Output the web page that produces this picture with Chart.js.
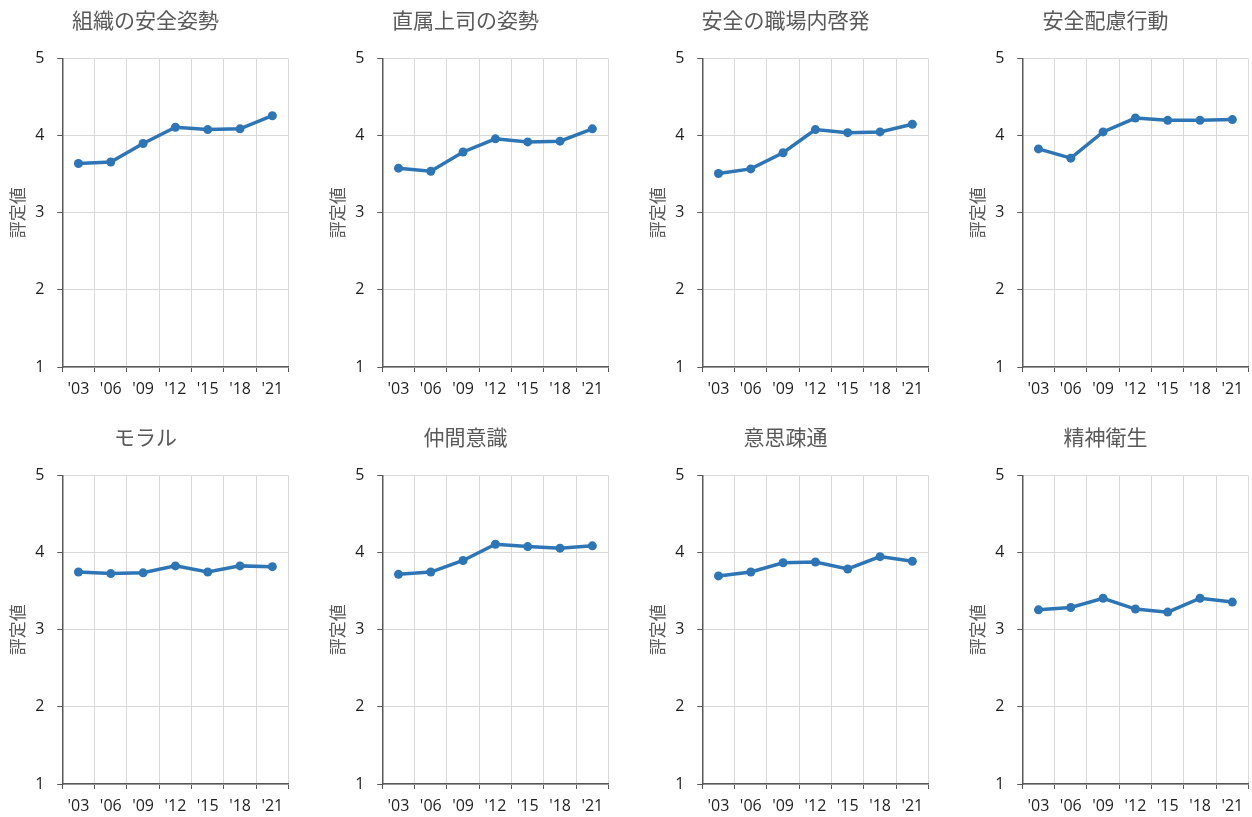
<!DOCTYPE html>
<html lang="ja">
<head>
<meta charset="utf-8">
<title>評定値の推移</title>
<script src="https://cdn.jsdelivr.net/npm/chart.js@4.4.1/dist/chart.umd.min.js"></script>
<style>
  html, body { margin: 0; padding: 0; background: #ffffff; }
  #wrap { position: relative; width: 1252px; height: 817px; overflow: hidden; }
  .cell { position: absolute; width: 293px; height: 400px; }
  .cell canvas { display: block; }
</style>
</head>
<body>
<div id="wrap"></div>
<script>
// Survey years (x-axis categories)
const years = ["'03", "'06", "'09", "'12", "'15", "'18", "'21"];

// Panel titles, in drawing order (left to right, top row first)
const titles = [
  "組織の安全姿勢", "直属上司の姿勢", "安全の職場内啓発", "安全配慮行動",
  "モラル", "仲間意識", "意思疎通", "精神衛生"
];

// Mean ratings per survey year
const orgSafety        = [3.64, 3.66, 3.90, 4.11, 4.08, 4.09, 4.26];
const supervisor       = [3.58, 3.54, 3.79, 3.96, 3.92, 3.93, 4.09];
const workplaceAware   = [3.51, 3.57, 3.78, 4.08, 4.04, 4.05, 4.15];
const safetyBehavior   = [3.83, 3.71, 4.05, 4.23, 4.20, 4.20, 4.21];
const morale           = [3.75, 3.73, 3.74, 3.83, 3.75, 3.83, 3.82];
const fellowship       = [3.72, 3.75, 3.90, 4.11, 4.08, 4.06, 4.09];
const communication    = [3.70, 3.75, 3.87, 3.88, 3.79, 3.95, 3.89];
const mentalHealth     = [3.26, 3.29, 3.41, 3.27, 3.23, 3.41, 3.36];

const seriesList = [orgSafety, supervisor, workplaceAware, safetyBehavior,
                    morale, fellowship, communication, mentalHealth];

// Rating scale
const yMin = 1;
const yMax = 5;
const yStep = 1;
const yAxisTitle = "評定値";

const CJK = "'Noto Sans CJK JP', 'Noto Sans', sans-serif";
const LAT = "'Open Sans', 'Noto Sans', sans-serif";
const BLUE = '#2e75b6';
const GRID = '#d9d9d9';
const AXIS = '#595959';

const colLeft = [0, 320, 640, 960];
const rowTop = [0, 417];

const wrap = document.getElementById('wrap');

seriesList.forEach((values, i) => {
  const cell = document.createElement('div');
  cell.className = 'cell';
  cell.style.left = colLeft[i % 4] + 'px';
  cell.style.top = rowTop[Math.floor(i / 4)] + 'px';
  const canvas = document.createElement('canvas');
  canvas.width = 293;
  canvas.height = 400;
  cell.appendChild(canvas);
  wrap.appendChild(cell);

  new Chart(canvas, {
    type: 'line',
    data: {
      labels: years,
      datasets: [{
        data: values,
        borderColor: BLUE,
        backgroundColor: BLUE,
        borderWidth: 3.5,
        pointRadius: 4.5,
        pointHoverRadius: 4.5,
        pointBorderWidth: 0,
        tension: 0,
        clip: false
      }]
    },
    options: {
      responsive: false,
      animation: false,
      devicePixelRatio: 1,
      layout: { padding: { left: 0, right: 2, top: 0, bottom: 0 } },
      plugins: {
        legend: { display: false },
        tooltip: { enabled: false },
        title: {
          display: true,
          text: titles[i],
          color: AXIS,
          font: { family: CJK, size: 21, weight: 'normal', lineHeight: 1.2 },
          padding: { top: 7.5, bottom: 26 }
        }
      },
      scales: {
        x: {
          offset: true,
          grid: { offset: true, color: GRID, lineWidth: 1, tickColor: AXIS, tickLength: 5 },
          border: { color: AXIS, width: 1.5 },
          ticks: {
            color: '#1f1f1f',
            font: { family: LAT, size: 16 },
            padding: 8,
            maxRotation: 0,
            autoSkip: false
          },
          afterFit(scale) {
            scale.height = 33;
            scale.paddingLeft = 0;
            scale.paddingRight = 0;
          }
        },
        y: {
          min: yMin,
          max: yMax,
          grid: { color: GRID, lineWidth: 1, tickColor: AXIS, tickLength: 5 },
          border: { color: AXIS, width: 1.5 },
          ticks: {
            stepSize: yStep,
            color: '#1f1f1f',
            font: { family: LAT, size: 16 },
            padding: 13
          },
          title: {
            display: true,
            text: yAxisTitle,
            color: AXIS,
            font: { family: CJK, size: 17, weight: 'normal', lineHeight: 1.2 },
            padding: { top: 7.5, bottom: 0 }
          },
          afterFit(scale) {
            scale.width = 62.3;
            scale.paddingTop = 0;
            scale.paddingBottom = 0;
          }
        }
      }
    }
  });
});
</script>
</body>
</html>
